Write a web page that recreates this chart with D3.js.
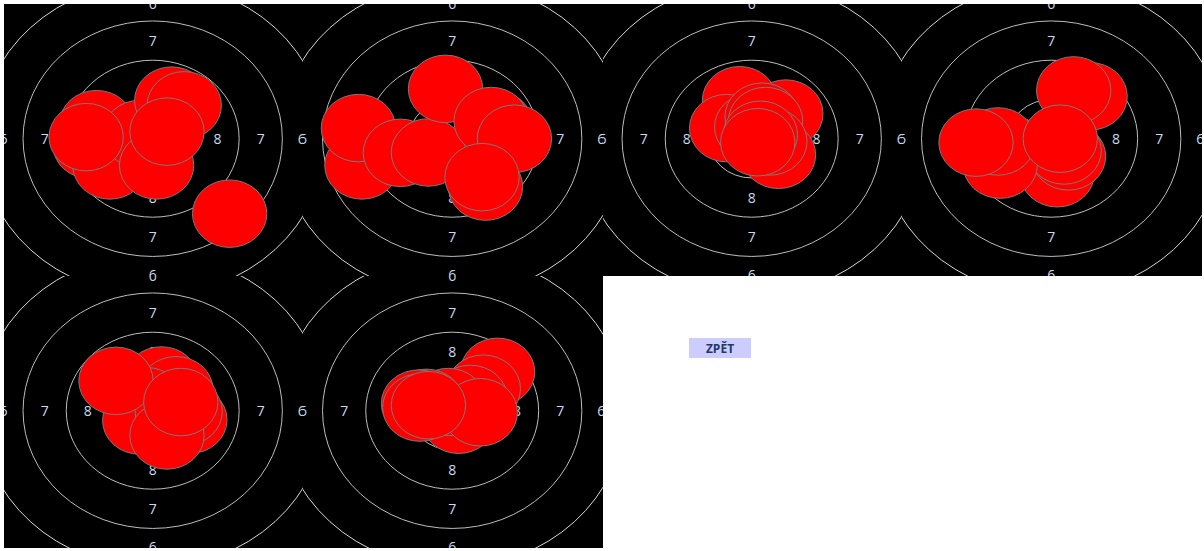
<!DOCTYPE html>
<html>
<head>
<meta charset="utf-8">
<script src="https://cdn.jsdelivr.net/npm/d3@7"></script>
<style>
html,body{margin:0;padding:0;background:#fff;}
svg{display:block;}
</style>
</head>
<body>
<svg id="chart" width="1204" height="551"></svg>
<script>
// ---- data ----
const seriesNames = ["Série 1", "Série 2", "Série 3", "Série 4", "Série 5", "Série 6"];
const ringRadii = [1, 2, 3, 4];
const ringLabelValues = ["8", "7", "6"];
const ringLabelRadii = [1.5, 2.5, 3.45];
const shotRadius = 0.86;
const buttonLabel = "ZPĚT";

// shot positions [x, y] in ring units (back to front)
const series1 = [[-1.30, 0.37], [-1.45, -0.16], [-0.99, -0.68], [-0.30, 0.12], [0.44, 0.97],
                 [0.73, 0.85], [0.09, -0.68], [0.33, 0.18], [-1.54, 0.04], [1.78, -1.91]];
const series2 = [[-2.09, -0.68], [-2.17, 0.27], [-1.20, -0.36], [-0.55, -0.35], [-0.155, 1.27],
                 [0.99, 0.37], [0.90, 0.45], [1.44, 0.00], [0.77, -1.22], [0.69, -0.98]];
const series3 = [[-0.28, 0.98], [0.79, 0.64], [0.62, -0.41], [-0.58, 0.27], [0.00, 0.30],
                 [0.24, 0.56], [0.32, 0.45], [0.42, -0.07], [0.20, 0.10], [0.14, -0.09]];
const series4 = [[-0.90, -0.30], [0.90, 1.08], [0.52, 1.23], [0.14, -0.88], [0.40, -0.45],
                 [0.30, -0.30], [-1.18, -0.66], [-1.23, -0.07], [-1.74, -0.10], [0.21, 0.00]];
const series5 = [[0.20, 0.77], [0.54, 0.52], [-0.14, 0.24], [-0.30, -0.25], [0.86, -0.23],
                 [0.75, -0.02], [0.45, 0.00], [0.33, -0.63], [-0.85, 0.76], [0.65, 0.22]];
const series6 = [[1.05, 0.99], [0.72, 0.56], [0.42, 0.30], [0.15, -0.23], [-0.09, 0.22],
                 [0.65, -0.04], [-0.60, 0.20], [-0.78, 0.18], [-0.75, 0.08], [-0.55, 0.14]];
const allSeries = [series1, series2, series3, series4, series5, series6];

// ---- layout ----
const svg = d3.select("#chart");
const panelLeft = 4, panelTop = 4, W = 299.5, H = 272, cols = 4;
const E = 3.465;

const defs = svg.append("defs");

seriesNames.forEach((name, i) => {
  const col = i % cols, row = Math.floor(i / cols);
  const x0 = Math.floor(panelLeft + col * W), x1 = Math.floor(panelLeft + (col + 1) * W);
  const y0 = panelTop + row * H, y1 = panelTop + (row + 1) * H;
  const w = x1 - x0, h = y1 - y0;
  const cx = x0 + w / 2 - 0.8, cy = y0 + h / 2 - 1.3;
  const x = d3.scaleLinear().domain([-E, E]).range([cx - W / 2, cx + W / 2]);
  const y = d3.scaleLinear().domain([E, -E]).range([cy - H / 2, cy + H / 2]);

  const clipId = "clip" + i;
  defs.append("clipPath").attr("id", clipId)
    .append("rect").attr("x", x0).attr("y", y0).attr("width", w).attr("height", h);

  const g = svg.append("g").attr("class", "target").attr("clip-path", `url(#${clipId})`)
    .attr("data-name", name);

  g.append("rect").attr("x", x0).attr("y", y0).attr("width", w).attr("height", h)
    .attr("fill", "#000");

  g.selectAll("ellipse.ring").data(ringRadii).join("ellipse")
    .attr("class", "ring")
    .attr("cx", x(0)).attr("cy", y(0))
    .attr("rx", d => x(d) - x(0)).attr("ry", d => y(0) - y(d))
    .attr("fill", "none")
    .attr("stroke", d => d === 4 ? "#d8d8d8" : "#bdbdbd")
    .attr("stroke-width", 1);

  const labelData = [];
  ringLabelValues.forEach((v, k) => {
    const r = ringLabelRadii[k];
    labelData.push({v, px: 0, py: r}, {v, px: 0, py: -r}, {v, px: r, py: 0}, {v, px: -r, py: 0});
  });
  g.selectAll("text.lbl").data(labelData).join("text")
    .attr("class", "lbl")
    .attr("x", d => x(d.px)).attr("y", d => y(d.py))
    .attr("text-anchor", "middle").attr("dominant-baseline", "central")
    .attr("font-family", "'Open Sans', 'Noto Sans', sans-serif")
    .attr("font-size", 14)
    .attr("fill", "#c9dbef")
    .text(d => d.v);

  g.selectAll("ellipse.shot").data(allSeries[i]).join("ellipse")
    .attr("class", "shot")
    .attr("cx", d => x(d[0])).attr("cy", d => y(d[1]))
    .attr("rx", x(shotRadius) - x(0)).attr("ry", y(0) - y(shotRadius))
    .attr("fill", "#ff0000")
    .attr("stroke", "#7a7a7a")
    .attr("stroke-width", 1);
});

// ---- button ----
const btn = svg.append("g").attr("class", "button");
btn.append("rect").attr("x", 689).attr("y", 338).attr("width", 62).attr("height", 20)
  .attr("fill", "#ccccff");
btn.append("text").attr("x", 720).attr("y", 348.5)
  .attr("text-anchor", "middle").attr("dominant-baseline", "central")
  .attr("font-family", "'Open Sans', 'Noto Sans', sans-serif")
  .attr("font-weight", "bold").attr("font-size", 12)
  .attr("fill", "#1f3868")
  .text(buttonLabel);
</script>
</body>
</html>
